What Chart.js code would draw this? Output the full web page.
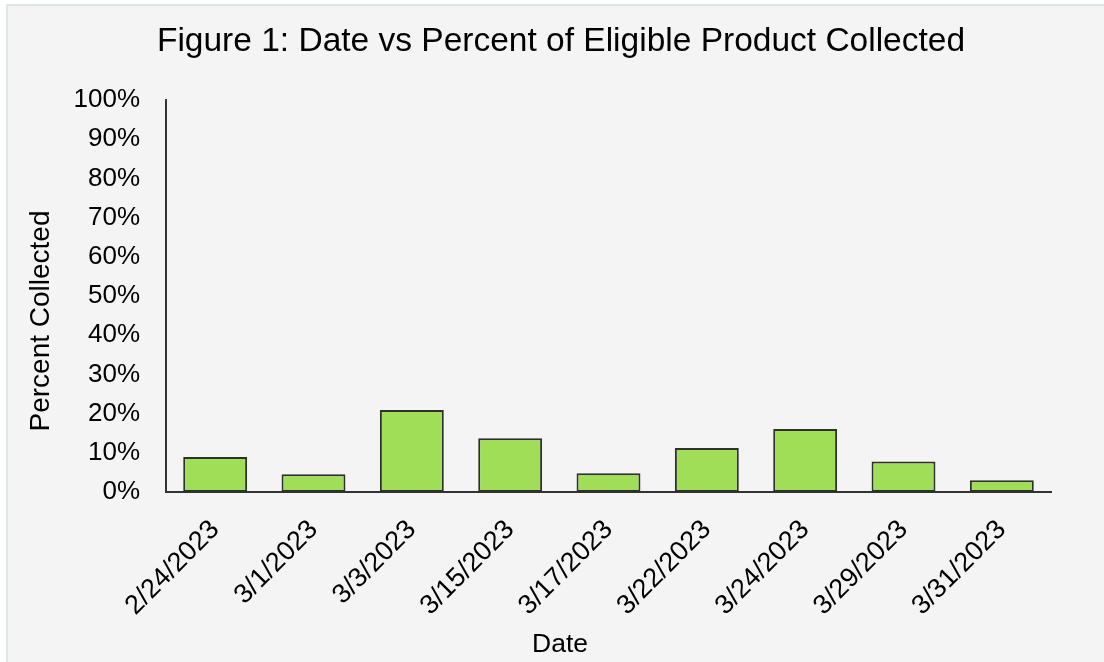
<!DOCTYPE html>
<html>
<head>
<meta charset="utf-8">
<script src="https://cdn.jsdelivr.net/npm/chart.js@4.4.0/dist/chart.umd.min.js"></script>
<style>
  html, body { margin: 0; padding: 0; background: #ffffff; overflow: hidden; }
  #frame {
    position: absolute; left: 6px; top: 4px; right: -4px; bottom: -4px;
    background: #f4f4f4; border: 2px solid #dde5e5;
  }
  #myChart { position: absolute; left: 0; top: 0; }
</style>
</head>
<body>
<div id="frame"></div>
<canvas id="myChart" width="1104" height="662"></canvas>
<script>
const dates = ["2/24/2023", "3/1/2023", "3/3/2023", "3/15/2023", "3/17/2023",
  "3/22/2023", "3/24/2023", "3/29/2023", "3/31/2023"];
const percentCollected = [8.9, 4.5, 20.9, 13.7, 4.8, 11.2, 16.1, 7.8, 3.0];
const chartTitle = "Figure 1: Date vs Percent of Eligible Product Collected";
const xTitle = "Date";
const yTitle = "Percent Collected";

const fontFamily = "'Liberation Sans', Arial, sans-serif";

// Excel centres its titles differently from Chart.js, so draw them here
const titlesPlugin = {
  id: "titles",
  afterDraw(chart) {
    const ctx = chart.ctx;
    ctx.save();
    ctx.fillStyle = "#000";
    ctx.textAlign = "center";
    ctx.textBaseline = "middle";
    ctx.font = "33.5px " + fontFamily;
    ctx.fillText(chartTitle, 561, 42);
    ctx.font = "26.5px " + fontFamily;
    ctx.fillText(xTitle, 560, 645);
    ctx.font = "28px " + fontFamily;
    ctx.translate(41, 321);
    ctx.rotate(-Math.PI / 2);
    ctx.fillText(yTitle, 0, 0);
    ctx.restore();
  },
};

const config = {
  type: "bar",
  data: {
    labels: dates,
    datasets: [
      {
        label: yTitle,
        data: percentCollected,
        backgroundColor: "#9fde56",
        borderColor: "#2f2f2f",
        borderWidth: 2,
        borderSkipped: false,
        barPercentage: 0.65,
        categoryPercentage: 1,
      },
    ],
  },
  options: {
    responsive: false,
    maintainAspectRatio: false,
    animation: false,
    layout: {
      padding: { left: 0, top: 100, right: 53, bottom: 0 },
    },
    scales: {
      x: {
        grid: { display: false, drawTicks: false },
        border: { display: true, color: "#333", width: 2 },
        ticks: {
          color: "#000",
          font: { family: fontFamily, size: 27 },
          minRotation: 45,
          maxRotation: 45,
          autoSkip: false,
          padding: 22,
        },
        afterFit(scale) {
          scale.height = 170;
        },
      },
      y: {
        min: 0,
        max: 100,
        grid: { display: false, drawTicks: false },
        border: { display: true, color: "#333", width: 2 },
        ticks: {
          stepSize: 10,
          color: "#000",
          font: { family: fontFamily, size: 26 },
          padding: 26,
          callback: (value) => value + "%",
        },
        afterFit(scale) {
          scale.width = 166;
        },
      },
    },
    plugins: {
      legend: { display: false },
      title: { display: false },
      tooltip: { enabled: false },
    },
  },
  plugins: [titlesPlugin],
};

const ctx = document.getElementById("myChart").getContext("2d");
new Chart(ctx, config);
</script>
</body>
</html>
